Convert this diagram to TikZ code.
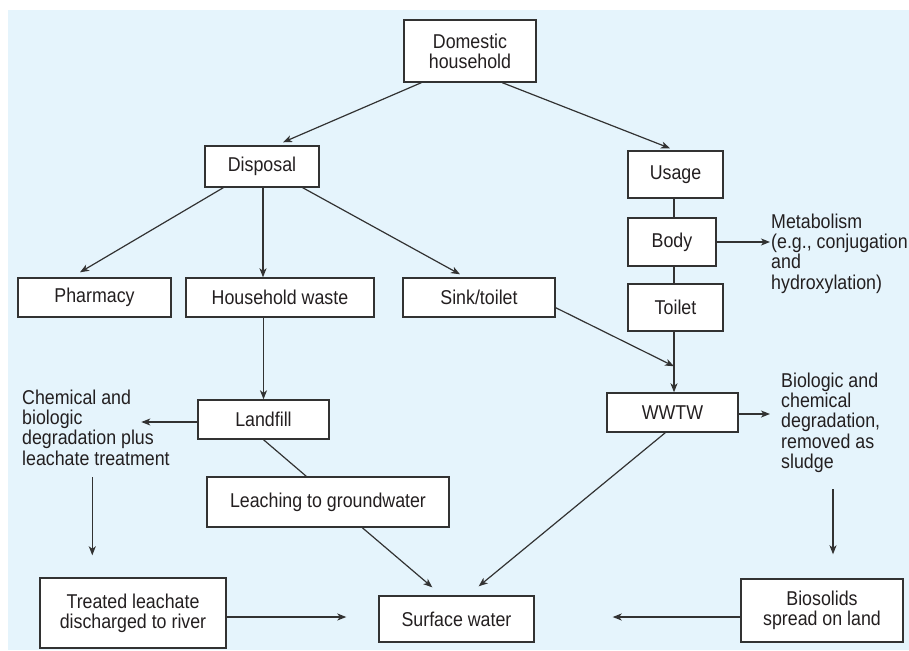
\documentclass[tikz,border=0pt]{standalone}
\usepackage{fontspec}
\setmainfont{Liberation Sans}[FakeStretch=0.89]
\usetikzlibrary{arrows.meta,calc}
\definecolor{bgc}{RGB}{229,244,252}
\definecolor{linec}{RGB}{50,50,50}
\definecolor{textc}{RGB}{35,31,32}
\newcommand{\dfont}{\fontsize{20}{20}\selectfont}
\newcommand{\ml}[1]{\begin{tabular}[t]{@{}l@{}}#1\end{tabular}}
\begin{document}
\begin{tikzpicture}[x=1pt,y=-1pt,
  box/.style={draw=linec, fill=white, line width=1.4pt, inner sep=0pt, align=center, text=textc, font=\dfont},
  lbl/.style={inner sep=0pt, text=textc, font=\dfont, anchor=base west},
  conn/.style={draw=linec, line width=1.2pt},
  arr/.style={conn, -{Stealth[length=9pt,width=7pt,inset=2.5pt]}}]
\fill[white] (0,0) rectangle (909,650);
\fill[bgc] (7.7,9.7) rectangle (909,650);
\useasboundingbox (0,0) rectangle (909,650);

% boxes
\node[box, minimum width=132pt, minimum height=62pt] (dom) at (470,51) {Domestic\\household};
\node[box, minimum width=114pt, minimum height=41pt] (disp) at (262,166.5) {Disposal};
\node[box, minimum width=95pt, minimum height=47pt] (usage) at (675.5,174.5) {Usage};
\node[box, minimum width=88pt, minimum height=48pt] (body) at (672,242) {Body};
\node[box, minimum width=95pt, minimum height=47pt] (toilet) at (675.5,307.5) {Toilet};
\node[box, minimum width=153pt, minimum height=39pt] (pharm) at (94.5,297.5) {Pharmacy};
\node[box, minimum width=188pt, minimum height=39pt] (hwaste) at (280,297.5) {Household waste};
\node[box, minimum width=152pt, minimum height=39pt] (sink) at (479,297.5) {Sink/toilet};
\node[box, minimum width=131pt, minimum height=39pt] (landfill) at (263.5,419.5) {Landfill};
\node[box, minimum width=131pt, minimum height=39pt] (wwtw) at (672.5,412.5) {WWTW};
\node[box, minimum width=242pt, minimum height=50pt] (leach) at (328,502) {Leaching to groundwater};
\node[box, minimum width=186pt, minimum height=70pt] (treated) at (133,613) {Treated leachate\\discharged to river};
\node[box, minimum width=155pt, minimum height=46pt] (surface) at (456.5,619) {Surface water};
\node[box, minimum width=162pt, minimum height=63pt] (bio) at (822,610.5) {Biosolids\\spread on land};

% free text
\node[lbl] (metab) at (771,228) {\ml{Metabolism\\(e.g., conjugation\\and\\hydroxylation)}};
\node[lbl] (biol) at (781,387) {\ml{Biologic and\\chemical\\degradation,\\removed as\\sludge}};
\node[lbl] (chem) at (22,404) {\ml{Chemical and\\biologic\\degradation plus\\leachate treatment}};

% helper coordinates
\coordinate (vx) at ($(toilet.center)+(-1.5,0)$);
\coordinate (sinkjoin) at ($(vx |- wwtw.north)+(0,-26)$);
\coordinate (chemin) at ($(landfill.west)+(-56,2.5)$);
\coordinate (chemout) at ($(treated.north west)+(53,-100)$);
\coordinate (treatin) at ($(treated.north west)+(53,-22)$);
\coordinate (sludgeout) at ($(bio.north)+(11,-89)$);
\coordinate (bioin) at ($(bio.north)+(11,-24)$);

% connectors
\draw[arr] ($(dom.south west)+(18,0)$) -- ($(disp.north)+(21,-3)$);
\draw[arr] ($(dom.south west)+(99,0)$) -- ($(usage.north)+(-5.5,-2)$);
\draw[arr] ($(disp.south west)+(19,0)$) -- ($(pharm.north)+(-14.5,-5)$);
\draw[arr] ($(disp.south)+(1,0)$) -- ($(disp.south |- hwaste.north)+(1,0)$);
\draw[arr] ($(disp.south east)+(-17,0)$) -- ($(sink.north)+(-19,-3)$);
\draw[conn] (vx |- usage.south) -- (vx |- body.north);
\draw[conn] (vx |- body.south) -- (vx |- toilet.north);
\draw[arr] (vx |- toilet.south) -- (vx |- wwtw.north);
\draw[arr] ($(sink.south east)+(0,-10)$) -- (sinkjoin);
\draw[arr] (body.east) -- ($(metab.west |- body.east)+(-1,0)$);
\draw[arr] ($(wwtw.east)+(0,1.5)$) -- ($(biol.west |- wwtw.east)+(-11,1.5)$);
\draw[arr] (landfill.north |- hwaste.south) -- (landfill.north);
\draw[arr] ($(landfill.west)+(0,2.5)$) -- (chemin);
\draw[arr] (chemout) -- (treatin);
\draw[conn] (landfill.south) -- ($(leach.north west)+(100,0)$);
\draw[arr] ($(leach.south west)+(156,0)$) -- ($(surface.north west)+(54,-8)$);
\draw[arr] ($(wwtw.south west)+(59,0)$) -- ($(surface.north east)+(-56,-9)$);
\draw[arr] ($(treated.east)+(0,4)$) -- ($(surface.west)+(-32,-2)$);
\draw[arr] ($(bio.west)+(0,6.5)$) -- ($(surface.east)+(78,-2)$);
\draw[arr] (sludgeout) -- (bioin);
\end{tikzpicture}
\end{document}
